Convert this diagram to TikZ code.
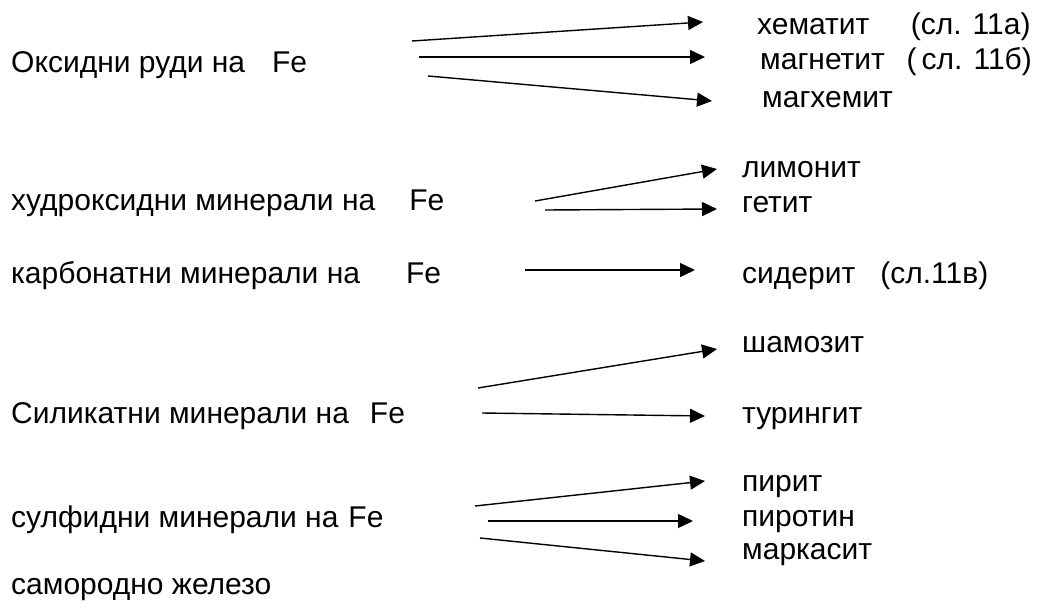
\documentclass[tikz,border=0pt]{standalone}
\usepackage{fontspec}
\setmainfont{Liberation Sans}
\usetikzlibrary{positioning,arrows.meta}

\begin{document}
\begin{tikzpicture}[x=1pt,y=-1pt,
    txt/.style={anchor=base west,inner sep=0pt,font=\fontsize{30}{35}\selectfont},
    arr/.style={line width=1.4pt,-{Triangle[length=15pt,width=14pt]}}]
  \useasboundingbox (0,0) rectangle (1038,602);
  \def\L{11}
  \def\R{742}

  % left column: groups of ores
  \node[txt] (oxid) at (\L,72) {Оксидни руди на\hspace{27pt}Fe};
  \node[txt] (hydr) at (\L,210) {худроксидни минерали на\hspace{34pt}Fe};
  \node[txt] (carb) at (\L,283) {карбонатни минерали на\hspace{46pt}Fe};
  \node[txt] (sil) at (\L,423) {Силикатни минерали на\hspace{21pt}Fe};
  \node[txt] (sulf) at (\L,527) {сулфидни минерали на\hspace{10pt}Fe};
  \node[txt] (nat) at (\L,594) {самородно железо};

  % right column: minerals
  \node[txt] (hem) at (757,35) {хематит~~~~\hspace{8pt}(сл. 11а)};
  \node[txt] (mag) at (760,70) {магнетит~~\hspace{5pt}(\,сл. 11б)};
  \node[txt] (mgh) at (762,107) {магхемит};
  \node[txt] (lim) at (\R,177) {лимонит};
  \node[txt] (get) at (\R,212) {гетит};
  \node[txt] (sid) at (\R,283) {сидерит~~~(сл.11в)};
  \node[txt] (sham) at (\R,352) {шамозит};
  \node[txt] (tur) at (\R,423) {турингит};
  \node[txt] (pir) at (\R,491) {пирит};
  \node[txt] (pirot) at (\R,526) {пиротин};
  \node[txt] (mark) at (\R,559) {маркасит};

  % arrow tails
  \coordinate (s1) at (412,41);
  \coordinate (s2) at (419,57);
  \coordinate (s3) at (428,76);
  \coordinate (s4) at (535,201);
  \coordinate (s5) at (545,210);
  \coordinate (s6) at (525,270);
  \coordinate (s7) at (478,388);
  \coordinate (s8) at (482,413);
  \coordinate (s9) at (475,506);
  \coordinate (s10) at (488,521);
  \coordinate (s11) at (480,538);

  \draw[arr] (s1) -- ([xshift=-54pt,yshift=13pt]hem.base west);
  \draw[arr] (s2) -- ([xshift=-55pt,yshift=13pt]mag.base west);
  \draw[arr] (s3) -- ([xshift=-50pt,yshift=6pt]mgh.base west);
  \draw[arr] (s4) -- ([xshift=-25pt,yshift=8pt]lim.base west);
  \draw[arr] (s5) -- ([xshift=-25pt,yshift=3pt]get.base west);
  \draw[arr] (s6) -- ([xshift=-47pt,yshift=13pt]sid.base west);
  \draw[arr] (s7) -- ([xshift=-25pt,yshift=3pt]sham.base west);
  \draw[arr] (s8) -- ([xshift=-37pt,yshift=7pt]tur.base west);
  \draw[arr] (s9) -- ([xshift=-37pt,yshift=10pt]pir.base west);
  \draw[arr] (s10) -- ([xshift=-49pt,yshift=5pt]pirot.base west);
  \draw[arr] (s11) -- ([xshift=-37pt,yshift=-2pt]mark.base west);
\end{tikzpicture}
\end{document}
